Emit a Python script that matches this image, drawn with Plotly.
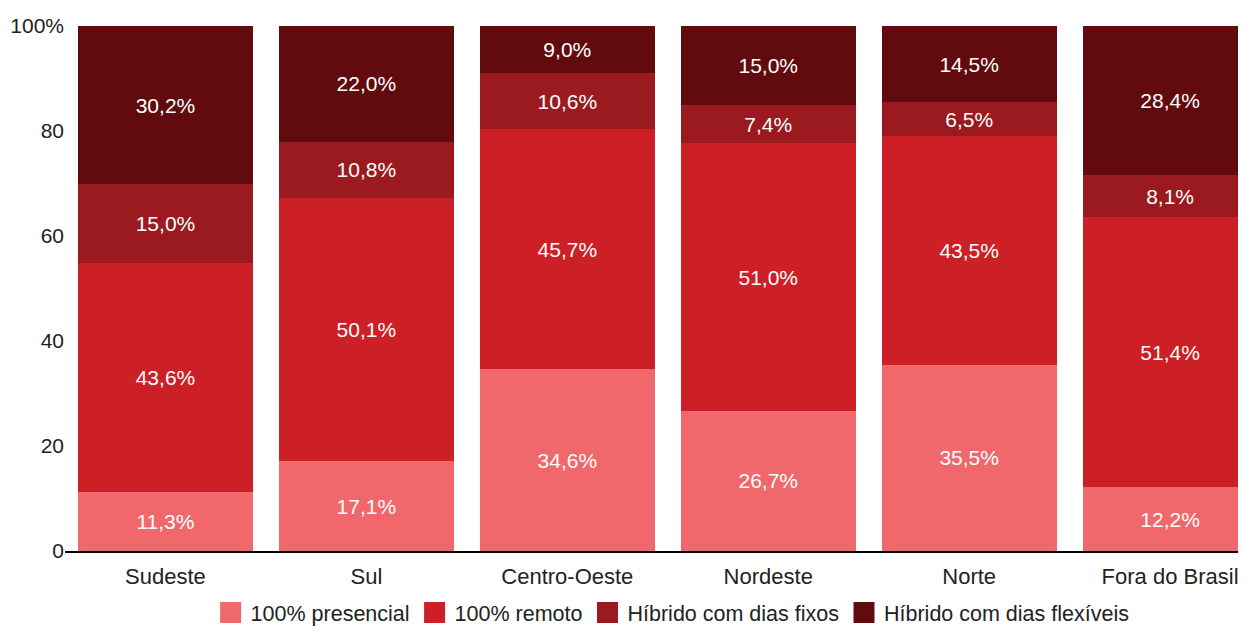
import plotly.graph_objects as go

categories = ["Sudeste", "Sul", "Centro-Oeste", "Nordeste", "Norte", "Fora do Brasil"]
presencial = [11.3, 17.1, 34.6, 26.7, 35.5, 12.2]
remoto = [43.6, 50.1, 45.7, 51.0, 43.5, 51.4]
hib_fixos = [15.0, 10.8, 10.6, 7.4, 6.5, 8.1]
hib_flex = [30.2, 22.0, 9.0, 15.0, 14.5, 28.4]
series_names = ["100% presencial", "100% remoto", "Híbrido com dias fixos", "Híbrido com dias flexíveis"]
colors = ["#F0686B", "#CD1F26", "#9A1A1F", "#620B0F"]
y_tickvals = [0, 20, 40, 60, 80, 100]
y_ticktext = ["0", "20", "40", "60", "80", "100%"]

FONT = "Liberation Sans, Arial, sans-serif"

def fmt(v):
    return f"{v:.1f}".replace(".", ",") + "%"

fig = go.Figure()
for name, vals, col in zip(series_names, [presencial, remoto, hib_fixos, hib_flex], colors):
    fig.add_trace(go.Bar(
        x=categories, y=vals, name=name,
        marker=dict(color=col, line=dict(width=0)),
        text=[fmt(v) for v in vals], textposition="inside",
        insidetextanchor="middle",
        textfont=dict(color="white", size=21, family=FONT),
        showlegend=False, hoverinfo="skip",
    ))
    fig.add_trace(go.Scatter(
        x=[None], y=[None], mode="markers", name=name,
        marker=dict(symbol="square", size=16, color=col, line=dict(width=10, color=col)),
        showlegend=True,
    ))

fig.update_layout(
    autosize=True,
    barmode="stack", barnorm="percent", bargap=0.13,
    plot_bgcolor="white", paper_bgcolor="white",
    margin=dict(l=57, r=0, t=18, b=76, autoexpand=False),
    font=dict(family=FONT, size=21, color="#222222"),
    uniformtext=dict(minsize=21, mode="show"),
    legend=dict(orientation="h", x=0.518, xanchor="center", y=-0.078, yanchor="top",
                font=dict(size=21.5, color="#222222"), itemsizing="trace",
                traceorder="normal", itemwidth=30),
    xaxis=dict(type="category", range=[-0.5, 5.338], showline=True, linecolor="black",
               linewidth=2, ticks="", tickfont=dict(size=22), showgrid=False,
               ticklabelstandoff=5),
    yaxis=dict(range=[0, 100], tickvals=y_tickvals, ticktext=y_ticktext, showgrid=False,
               zeroline=False, ticks="", tickfont=dict(size=21), showline=False),
)

fig.write_html("out.html")
